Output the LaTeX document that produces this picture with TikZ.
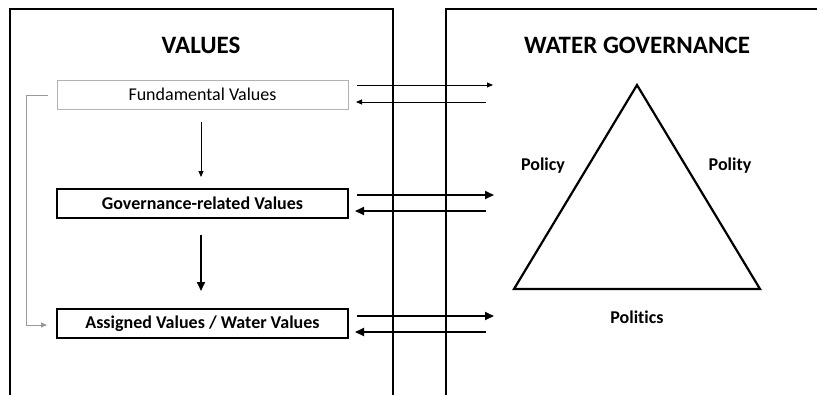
\documentclass[tikz,border=0pt]{standalone}
\usepackage{fontspec}
\setmainfont{Carlito}[Ligatures=NoCommon]
\usetikzlibrary{arrows.meta}
\begin{document}
\begin{tikzpicture}[x=1pt,y=-1pt,
  panel/.style={line width=2.4pt},
  title/.style={font=\fontsize{25}{28}\selectfont\bfseries, inner sep=0pt},
  lbl/.style={font=\fontsize{18}{20}\selectfont\bfseries, inner sep=0pt},
  graybox/.style={draw=gray!60, line width=1pt, minimum width=291pt, minimum height=29pt, inner sep=0pt, font=\fontsize{18}{20}\selectfont},
  boldbox/.style={draw=black, line width=2pt, minimum width=291pt, minimum height=29pt, inner sep=0pt, font=\fontsize{18}{20}\selectfont\bfseries},
  thinarr/.style={line width=0.9pt, -{Triangle[length=6pt,width=5pt]}},
  thickarr/.style={line width=2pt, -{Triangle[length=9pt,width=8pt]}},
  grayarr/.style={draw=gray!80, line width=0.9pt, -{Triangle[length=6pt,width=5pt]}}
]
\useasboundingbox (0,0) rectangle (817,394);
% panels
\draw[panel] (10,400) -- (10,9) -- (393,9) -- (393,400);
\draw[panel] (446,400) -- (446,9) -- (830,9);
% titles
\node[title] (tv) at (201,45) {VALUES};
\node[title] (tw) at (637,45) {WATER GOVERNANCE};
% boxes
\node[graybox] (fv) at (202.5,94.5) {Fundamental Values};
\node[boldbox] (gv) at (202.5,203.5) {Governance-related Values};
\node[boldbox] (av) at (202.5,323.5) {Assigned Values / Water Values};
% vertical arrows
\draw[thinarr] (201,122) -- (201,177);
\draw[thickarr] (201,235) -- (201,291);
% gray side connector
\coordinate (gs) at (48,95);
\coordinate (ge) at (47,325);
\draw[grayarr] (gs) -- (26,95) -- (26,325) -- (ge);
% horizontal arrows
\coordinate (r1) at (493,85);
\coordinate (l1) at (486,102);
\draw[thinarr] (357,85) -- (r1);
\draw[thinarr] (l1) -- (356,102);
\coordinate (r2) at (494,195);
\coordinate (l2) at (486,211);
\draw[thickarr] (357,195) -- (r2);
\draw[thickarr] (l2) -- (355,211);
\coordinate (r3) at (494,316);
\coordinate (l3) at (486,332);
\draw[thickarr] (357,316) -- (r3);
\draw[thickarr] (l3) -- (355,332);
% triangle
\coordinate (ta) at (637,85);
\coordinate (tl) at (514,289);
\coordinate (tr) at (760,289);
\draw[line width=2.2pt, line join=miter] (ta) -- (tl) -- (tr) -- cycle;
\node[lbl] (policy) at (543,166) {Policy};
\node[lbl] (polity) at (730,166) {Polity};
\node[lbl] (politics) at (637,317) {Politics};
\end{tikzpicture}
\end{document}
